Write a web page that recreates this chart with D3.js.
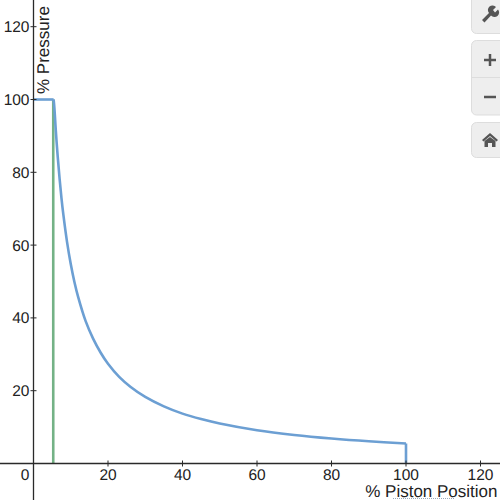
<!DOCTYPE html>
<html><head><meta charset="utf-8">
<script src="https://cdn.jsdelivr.net/npm/d3@7"></script>
<style>html,body{margin:0;padding:0;background:#fff}svg{display:block}text{font-family:"Liberation Sans",Arial,sans-serif;fill:#222;text-rendering:geometricPrecision}</style>
</head><body>
<svg id="c" width="500" height="500"></svg>
<script>
const xTicks=[20,40,60,80,100,120];
const yTicks=[20,40,60,80,100,120];
const flatX=[0,5.4];
const flatY=[100,100];
const curveX=[5.4,5.6,6,6.5,7,7.5,8,9,10,11,12,14,16,18,20,23,26,30,35,40,45,50,60,70,80,90,100];
const curveY=[100,97.8,91.3,84.3,78.3,73,68.5,60.9,54.8,49.8,45.7,39.1,34.3,30.5,27.4,23.8,21.1,18.3,15.7,13.7,12.2,11,9.15,7.85,6.87,6.1,5.5];
const dropX=[100,100];
const dropY=[5.5,0];
const greenX=[5.3,5.3];
const greenY=[100,0];
const xTitle="% Piston Position";
const yTitle="% Pressure";

const svg=d3.select("#c");
const x=d3.scaleLinear().domain([0,120]).range([33.5,480.5]);
const y=d3.scaleLinear().domain([0,120]).range([463.5,26.7]);
const line=d3.line().x(d=>x(d[0])).y(d=>y(d[1]));
const zip=(a,b)=>a.map((v,i)=>[v,b[i]]);
const axisC="#2a2a2a";

// series
svg.append("path").attr("d",line(zip(greenX,greenY))).attr("fill","none").attr("stroke","#74b286").attr("stroke-width",2.6);
svg.append("path").attr("d",line.curve(d3.curveCatmullRom)(zip(curveX,curveY))).attr("fill","none").attr("stroke","#6c9fd3").attr("stroke-width",2.6);
line.curve(d3.curveLinear);
svg.append("path").attr("d",line(zip(flatX,flatY))).attr("fill","none").attr("stroke","#6c9fd3").attr("stroke-width",2.6);
svg.append("path").attr("d",line(zip(dropX,dropY))).attr("fill","none").attr("stroke","#6c9fd3").attr("stroke-width",2.6);

// axes
svg.append("line").attr("x1",0).attr("x2",500).attr("y1",y(0)).attr("y2",y(0)).attr("stroke",axisC).attr("stroke-width",1.3);
svg.append("line").attr("x1",x(0)).attr("x2",x(0)).attr("y1",0).attr("y2",500).attr("stroke",axisC).attr("stroke-width",1.3);
svg.selectAll(".xt").data(xTicks).join("line").attr("x1",d=>x(d)).attr("x2",d=>x(d)).attr("y1",y(0)-3).attr("y2",y(0)+3).attr("stroke",axisC);
svg.selectAll(".yt").data(yTicks).join("line").attr("y1",d=>y(d)).attr("y2",d=>y(d)).attr("x1",x(0)-3).attr("x2",x(0)+3).attr("stroke",axisC);
svg.selectAll(".xl").data(xTicks).join("text").attr("x",d=>x(d)).attr("y",480).attr("text-anchor","middle").attr("font-size",15.5).text(d=>d);
svg.selectAll(".yl").data(yTicks).join("text").attr("x",29.5).attr("y",d=>y(d)+5.5).attr("text-anchor","end").attr("font-size",15.5).text(d=>d);
svg.append("text").attr("x",25).attr("y",480).attr("text-anchor","middle").attr("font-size",15.5).text("0");

// titles
svg.append("text").attr("x",497.5).attr("y",497).attr("text-anchor","end").attr("font-size",17).text(xTitle);
svg.append("text").attr("transform","translate(49,94) rotate(-90)").attr("font-size",17).text(yTitle);
svg.append("line").attr("x1",393).attr("x2",454).attr("y1",498.5).attr("y2",498.5).attr("stroke","#9ab").attr("stroke-dasharray","1,1");

// toolbar
const btn=(y0,h)=>svg.append("rect").attr("x",471.5).attr("y",y0).attr("width",50).attr("height",h).attr("rx",5).attr("fill","#eee").attr("stroke","#ddd");
btn(-10,43.5); btn(40.5,74.5); btn(122.5,35);
svg.append("line").attr("x1",472).attr("x2",500).attr("y1",77.5).attr("y2",77.5).attr("stroke","#ddd");
const ic="#555";
svg.append("path").attr("d","M482 20 L489 13 A4.5 4.5 0 0 1 496 7 L493 10 L495 12.5 L498 9.5 A4.5 4.5 0 0 1 491 15.5 L484.5 22.5 Z").attr("fill",ic);
svg.append("path").attr("d","M484 60 H496 M490 54 V66").attr("stroke",ic).attr("stroke-width",2.5);
svg.append("path").attr("d","M484 97 H496").attr("stroke",ic).attr("stroke-width",2.5);
svg.append("path").attr("d","M482 140 L490 133 L498 140 L496.5 141.5 L490 136 L483.5 141.5 Z M484.5 141 L490 137 L495.5 141 V147 H492 V143 H488 V147 H484.5 Z").attr("fill",ic);
</script>
</body></html>
